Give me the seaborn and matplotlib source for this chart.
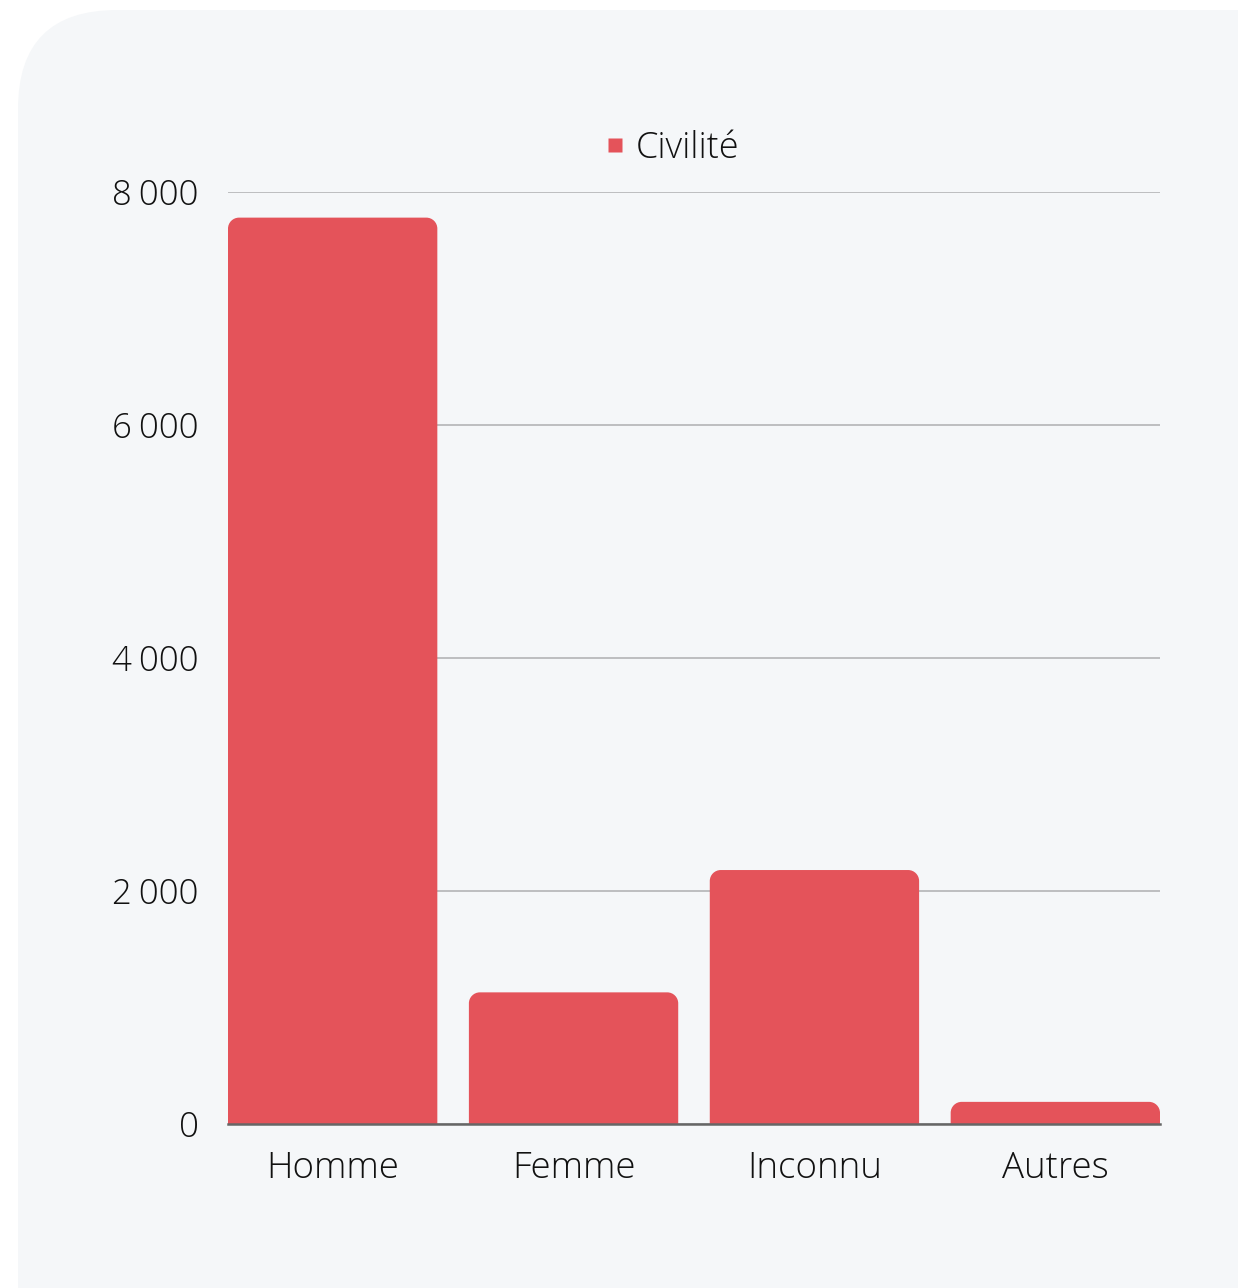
import numpy as np
import pandas as pd
import matplotlib
matplotlib.use("Agg")
import matplotlib.pyplot as plt
import seaborn as sns
from matplotlib.patches import FancyBboxPatch, PathPatch
from matplotlib.path import Path

categories = ["Homme", "Femme", "Inconnu", "Autres"]
values = [7780, 1130, 2180, 190]
series_name = "Civilité"
yticks = [0, 2000, 4000, 6000, 8000]

sns.set_theme(style="white")
plt.rcParams['font.family'] = ['Open Sans', 'DejaVu Sans']

BAR = "#e4535a"
CARD = "#f5f7f9"

fig = plt.figure(figsize=(12.38, 12.88), dpi=100, facecolor="white")
card = FancyBboxPatch((18 / 1238, -0.2), 1.5, 1.2 - 10 / 1288,
                      boxstyle="round,pad=0,rounding_size=0.08",
                      transform=fig.transFigure, facecolor=CARD,
                      edgecolor="none", zorder=-10,
                      mutation_aspect=1238 / 1288)
fig.patches.append(card)

ax = fig.add_axes([228 / 1238, 164 / 1288, 932 / 1238, 932 / 1288])
ax.set_facecolor("none")
ax.set_zorder(1)
BW = 0.869
df = pd.DataFrame({"cat": categories, "val": values, "serie": series_name})
sns.barplot(data=df, x="cat", y="val", hue="serie", palette=[BAR],
            width=BW, ax=ax, legend=False, saturation=1, zorder=3)

ax.set_ylim(0, 8000)
ax.set_xlim(-BW / 2, len(categories) - 1 + BW / 2)
ax.set_yticks(yticks)
ax.set_yticklabels([f"{v:,}".replace(",", "\u2009") for v in yticks])
ax.yaxis.grid(True, color="#b9b9bb", linewidth=1.3, zorder=0)
ax.set_axisbelow(True)
for s in ["top", "right", "left"]:
    ax.spines[s].set_visible(False)
ax.spines["bottom"].set_color("#666666")
ax.spines["bottom"].set_linewidth(1.8)
ax.spines["bottom"].set_zorder(5)
ax.tick_params(axis="y", length=0, pad=21, labelsize=25, labelcolor="#111111")
ax.tick_params(axis="x", length=0, pad=19, labelsize=26.5, labelcolor="#111111")
for lab in ax.get_xticklabels() + ax.get_yticklabels():
    lab.set_fontweight("light")
ax.set_xlabel("")
ax.set_ylabel("")

# rounded top corners
xr = ax.get_xlim()
px_x = 932 / (xr[1] - xr[0])
px_y = 932 / 8000
r_px = 11
k = 0.5523
for p in list(ax.patches):
    x0, w, h = p.get_x(), p.get_width(), p.get_height()
    if h <= 0:
        continue
    rx = r_px / px_x
    ry = min(r_px / px_y, h)
    x1 = x0 + w
    verts = [(x0, 0), (x0, h - ry),
             (x0, h - ry + k * ry), (x0 + rx - k * rx, h), (x0 + rx, h),
             (x1 - rx, h),
             (x1 - rx + k * rx, h), (x1, h - ry + k * ry), (x1, h - ry),
             (x1, 0), (x0, 0)]
    codes = [Path.MOVETO, Path.LINETO,
             Path.CURVE4, Path.CURVE4, Path.CURVE4,
             Path.LINETO,
             Path.CURVE4, Path.CURVE4, Path.CURVE4,
             Path.LINETO, Path.CLOSEPOLY]
    pp = PathPatch(Path(verts, codes), facecolor=p.get_facecolor(),
                   edgecolor="none", zorder=3)
    p.set_visible(False)
    ax.add_patch(pp)

# legend
handle = plt.Line2D([], [], marker="s", linestyle="none", markersize=10,
                    markerfacecolor=BAR, markeredgecolor="none")
leg = fig.legend([handle], [series_name], loc="center",
                 bbox_to_anchor=(670 / 1238, 1 - 148 / 1288),
                 frameon=False, fontsize=26, handletextpad=0.15,
                 handlelength=0.8)
for t in leg.get_texts():
    t.set_fontweight("light")
    t.set_color("#111111")

fig.savefig("out.png", dpi=100, facecolor="white")
